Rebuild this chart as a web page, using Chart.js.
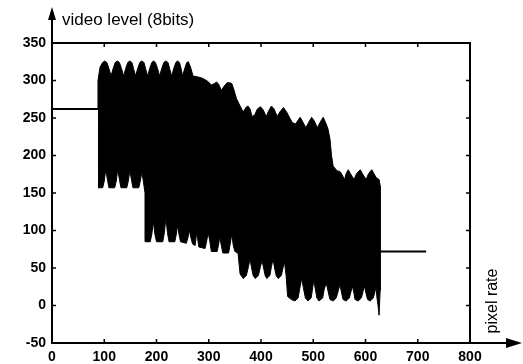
<!DOCTYPE html>
<html>
<head>
<meta charset="utf-8">
<script src="https://cdn.jsdelivr.net/npm/chart.js@4"></script>
<style>
  html, body { margin: 0; padding: 0; background: #fff; }
  #wrap { width: 523px; height: 364px; }
</style>
</head>
<body>
<div id="wrap"><canvas id="levelChart" width="523" height="364"></canvas></div>
<script>
// flat parts of the line, before and after the active video
const startX = [0, 88];
const startLevel = [262, 262];
const endX = [628, 716];
const endLevel = [72, 72];

// upper edge of the black band (left to right)
const upperX = [88, 88, 92, 97, 101, 105, 109, 113, 117, 121, 125, 129, 133, 137, 141, 145, 149, 153, 156, 160,
  164, 168, 172, 176, 179, 183, 187, 191, 194, 198, 202, 206, 210, 214, 218, 222, 225, 229, 233, 237, 240, 244,
  247, 250, 254, 258, 261, 265, 270, 278, 288, 298, 305, 311, 315, 319, 324, 329, 335, 340, 344, 348, 353, 360,
  366, 371, 375, 379, 383, 388, 393, 399, 404, 410, 415, 420, 425, 431, 436, 443, 449, 455, 460, 466, 470, 475,
  479, 486, 491, 497, 502, 508, 513, 519, 523, 528, 532, 535, 538, 545, 552, 557, 560, 563, 567, 571, 578, 583,
  590, 594, 601, 606, 612, 616, 621, 626, 628];
const upperY = [262, 300, 318, 324, 326, 324, 316, 306, 316, 324, 326, 324, 316, 306, 316, 324, 326, 324, 316, 306,
  316, 324, 326, 324, 316, 306, 316, 324, 326, 324, 316, 306, 316, 324, 326, 324, 316, 306, 316, 324, 326, 324,
  316, 306, 316, 324, 325, 318, 306, 305, 303, 299, 294, 296, 298, 295, 287, 292, 297, 297, 296, 288, 276, 266,
  258, 264, 266, 262, 252, 254, 262, 265, 261, 252, 260, 266, 262, 252, 258, 264, 258, 250, 244, 242, 246, 251,
  246, 237, 244, 251, 246, 237, 244, 251, 245, 236, 222, 200, 186, 180, 178, 172, 168, 176, 181, 176, 168, 176,
  181, 176, 168, 176, 181, 176, 170, 168, 160];

// lower edge of the black band (left to right)
const lowerX = [88, 97, 100, 103, 106, 109, 120, 123, 126, 129, 132, 143, 146, 149, 152, 155, 166, 169, 172, 175,
  178, 179, 188, 191, 194, 197, 200, 212, 215, 218, 221, 224, 235, 238, 240, 243, 246, 257, 260, 263, 266, 269,
  274, 277, 281, 293, 296, 299, 302, 305, 316, 319, 321, 324, 327, 338, 341, 344, 347, 350, 356, 360, 366, 372,
  376, 379, 382, 385, 389, 395, 399, 402, 405, 408, 411, 417, 420, 423, 426, 429, 433, 439, 442, 445, 448, 451,
  458, 465, 471, 475, 478, 481, 485, 490, 496, 499, 501, 504, 507, 511, 518, 521, 525, 528, 532, 538, 544, 548,
  551, 554, 557, 563, 569, 572, 575, 578, 580, 586, 592, 595, 598, 601, 604, 609, 615, 618, 620, 622, 624, 626, 628];
const lowerY = [157, 157, 166, 182, 168, 157, 157, 166, 182, 168, 157, 157, 166, 180, 168, 157, 157, 166, 178, 165,
  150, 85, 85, 95, 112, 95, 85, 85, 97, 117, 97, 85, 85, 95, 107, 95, 85, 83, 90, 100, 90, 82,
  80, 98, 78, 76, 86, 97, 86, 72, 72, 82, 92, 80, 70, 70, 82, 95, 80, 72, 70, 42, 36, 40,
  52, 62, 50, 40, 36, 40, 52, 60, 50, 40, 36, 40, 52, 62, 50, 40, 36, 40, 50, 58, 40, 12,
  8, 6, 10, 26, 36, 24, 10, 6, 10, 24, 34, 22, 10, 6, 10, 22, 30, 20, 8, 6, 10, 20,
  28, 18, 8, 6, 10, 18, 26, 16, 8, 6, 10, 18, 26, 16, 8, 6, 10, 18, 26, 10, 0, -13, 20];

const xTicks = [0, 100, 200, 300, 400, 500, 600, 700, 800];
const yTicks = [-50, 0, 50, 100, 150, 200, 250, 300, 350];

const pts = (xs, ys) => xs.map((x, i) => ({ x: x, y: ys[i] }));

// closed outline: upper edge then lower edge backwards
const band = pts(upperX, upperY).concat(pts(lowerX, lowerY).reverse());

const FONT = '"Liberation Sans", Arial, sans-serif';

const axisDecor = {
    id: 'axisDecor',
    afterDraw(chart) {
        const ctx = chart.ctx;
        const a = chart.chartArea;
        const xs = chart.scales.x, ys = chart.scales.y;
        ctx.save();
        ctx.strokeStyle = '#000';
        ctx.fillStyle = '#000';
        ctx.lineWidth = 2;

        // frame top + right
        ctx.beginPath();
        ctx.moveTo(a.left, a.top);
        ctx.lineTo(a.right, a.top);
        ctx.lineTo(a.right, a.bottom);
        ctx.stroke();

        // y axis with arrow
        ctx.beginPath();
        ctx.moveTo(a.left, a.bottom + 1);
        ctx.lineTo(a.left, 17);
        ctx.stroke();
        ctx.beginPath();
        ctx.moveTo(a.left, 7);
        ctx.lineTo(a.left - 4, 20);
        ctx.lineTo(a.left + 4, 20);
        ctx.closePath();
        ctx.fill();

        // x axis with arrow
        ctx.beginPath();
        ctx.moveTo(a.left - 1, a.bottom);
        ctx.lineTo(510, a.bottom);
        ctx.stroke();
        ctx.beginPath();
        ctx.moveTo(522, a.bottom);
        ctx.lineTo(506, a.bottom - 5);
        ctx.lineTo(506, a.bottom + 5);
        ctx.closePath();
        ctx.fill();

        // inward ticks
        ctx.lineWidth = 1.5;
        ctx.beginPath();
        xTicks.slice(1, -1).forEach(v => {
            const p = xs.getPixelForValue(v);
            ctx.moveTo(p, a.bottom);
            ctx.lineTo(p, a.bottom - 4);
            ctx.moveTo(p, a.top);
            ctx.lineTo(p, a.top + 4);
        });
        yTicks.slice(1, -1).forEach(v => {
            const p = ys.getPixelForValue(v);
            ctx.moveTo(a.left, p);
            ctx.lineTo(a.left + 4, p);
            ctx.moveTo(a.right, p);
            ctx.lineTo(a.right - 4, p);
        });
        ctx.stroke();

        // titles
        ctx.font = '17px ' + FONT;
        ctx.textAlign = 'left';
        ctx.textBaseline = 'alphabetic';
        ctx.fillText('video level (8bits)', 62, 25);

        ctx.font = '16px ' + FONT;
        ctx.translate(497, 301);
        ctx.rotate(-Math.PI / 2);
        ctx.textAlign = 'center';
        ctx.fillText('pixel rate', 0, 0);
        ctx.restore();
    }
};

const ctx = document.getElementById('levelChart').getContext('2d');
new Chart(ctx, {
    type: 'line',
    data: {
        datasets: [{
            label: 'signal',
            data: band,
            borderColor: '#000',
            backgroundColor: '#000',
            borderWidth: 1,
            fill: 'shape',
            pointRadius: 0,
            tension: 0
        }, {
            label: 'blank start',
            data: pts(startX, startLevel),
            borderColor: '#000',
            borderWidth: 2,
            fill: false,
            pointRadius: 0
        }, {
            label: 'blank end',
            data: pts(endX, endLevel),
            borderColor: '#000',
            borderWidth: 2,
            fill: false,
            pointRadius: 0
        }]
    },
    options: {
        responsive: false,
        animation: false,
        layout: {
            padding: { top: 43, right: 53, left: 0, bottom: 0 }
        },
        plugins: {
            legend: { display: false },
            tooltip: { enabled: false }
        },
        scales: {
            x: {
                type: 'linear',
                min: 0,
                max: 800,
                afterBuildTicks: scale => { scale.ticks = xTicks.map(v => ({ value: v })); },
                afterFit: scale => { scale.height = 21; },
                grid: { display: false, drawTicks: false },
                border: { display: false },
                ticks: {
                    padding: 6,
                    maxRotation: 0,
                    color: '#000',
                    font: { family: FONT, size: 14, weight: 'bold' }
                }
            },
            y: {
                min: -50,
                max: 350,
                afterBuildTicks: scale => { scale.ticks = yTicks.map(v => ({ value: v })); },
                afterFit: scale => { scale.width = 52; },
                grid: { display: false, drawTicks: false },
                border: { display: false },
                ticks: {
                    padding: 6,
                    color: '#000',
                    font: { family: FONT, size: 14, weight: 'bold' }
                }
            }
        }
    },
    plugins: [axisDecor]
});
</script>
</body>
</html>
